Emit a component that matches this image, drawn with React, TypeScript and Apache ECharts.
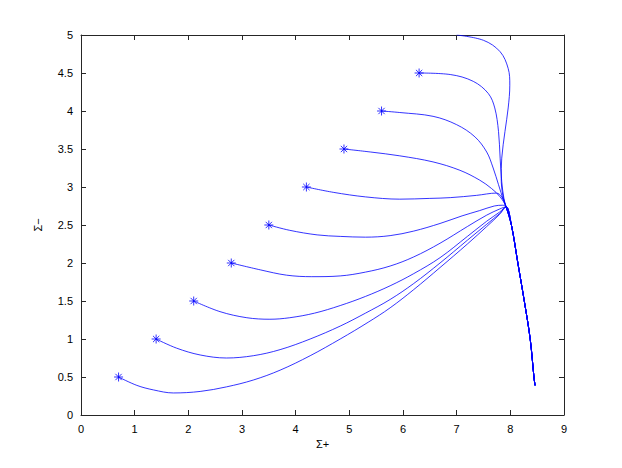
import React, { useEffect, useRef } from "react";
import * as echarts from "echarts";

const xTicks = [0, 1, 2, 3, 4, 5, 6, 7, 8, 9];
const yTicks = [0, 0.5, 1, 1.5, 2, 2.5, 3, 3.5, 4, 4.5, 5];

const startPoints: [number, number][] = [
  [0.7, 0.5], [1.4, 1.0], [2.1, 1.5], [2.8, 2.0], [3.5, 2.5],
  [4.2, 3.0], [4.9, 3.5], [5.6, 4.0], [6.3, 4.5],
];

const tail: [number, number][] = [
  [8.02, 2.5], [8.14, 2.0], [8.26, 1.5], [8.37, 1.0], [8.44, 0.5], [8.46, 0.39],
];

const curveTop: [number, number][] = [
  [7.0, 5.0], [7.5, 4.93], [7.81, 4.78], [7.96, 4.56], [7.99, 4.34], [7.96, 4.04],
  [7.9, 3.73], [7.84, 3.38], [7.83, 3.11], [7.86, 2.89], [7.92, 2.74],
];
const curve45: [number, number][] = [
  [6.3, 4.5], [6.88, 4.48], [7.31, 4.39], [7.59, 4.23], [7.71, 4.04], [7.78, 3.73],
  [7.81, 3.38], [7.84, 3.07], [7.88, 2.85], [7.92, 2.74],
];
const curve40: [number, number][] = [
  [5.6, 4.0], [5.94, 3.98], [6.56, 3.93], [7.0, 3.82], [7.34, 3.66], [7.56, 3.46],
  [7.68, 3.25], [7.78, 3.03], [7.87, 2.83], [7.92, 2.74],
];
const curve35: [number, number][] = [
  [4.9, 3.5], [5.4, 3.46], [5.94, 3.41], [6.56, 3.33], [7.06, 3.22], [7.43, 3.09],
  [7.65, 2.98], [7.81, 2.87], [7.92, 2.74],
];
const curve30: [number, number][] = [
  [4.2, 3.0], [4.7, 2.93], [5.3, 2.87], [5.94, 2.84], [6.5, 2.85], [6.88, 2.86],
  [7.37, 2.89], [7.74, 2.92], [7.84, 2.87], [7.92, 2.74],
];
const curve25: [number, number][] = [
  [3.5, 2.5], [3.89, 2.43], [4.4, 2.37], [4.83, 2.35], [5.3, 2.34], [5.76, 2.36],
  [6.2, 2.42], [6.69, 2.52], [7.1, 2.62], [7.43, 2.69], [7.7, 2.75], [7.85, 2.76],
  [7.92, 2.74],
];
const curve20: [number, number][] = [
  [2.8, 2.0], [3.34, 1.91], [3.83, 1.84], [4.3, 1.82], [4.83, 1.83], [5.3, 1.88],
  [5.76, 1.96], [6.2, 2.08], [6.69, 2.26], [7.2, 2.48], [7.56, 2.63], [7.8, 2.71],
  [7.92, 2.74],
];
const curve15: [number, number][] = [
  [2.1, 1.5], [2.59, 1.36], [3.09, 1.28], [3.52, 1.26], [3.89, 1.28], [4.35, 1.34],
  [4.83, 1.44], [5.3, 1.56], [5.76, 1.7], [6.2, 1.86], [6.69, 2.07], [7.2, 2.35],
  [7.56, 2.55], [7.8, 2.67], [7.92, 2.74],
];
const curve10: [number, number][] = [
  [1.4, 1.0], [1.78, 0.88], [2.22, 0.79], [2.71, 0.75], [3.21, 0.78], [3.71, 0.86],
  [4.27, 1.0], [4.83, 1.17], [5.3, 1.34], [5.76, 1.52], [6.2, 1.73], [6.69, 2.0],
  [7.2, 2.3], [7.56, 2.51], [7.8, 2.65], [7.92, 2.74],
];
const curve05: [number, number][] = [
  [0.7, 0.5], [1.04, 0.39], [1.35, 0.33], [1.72, 0.29], [2.22, 0.31], [2.71, 0.37],
  [3.21, 0.46], [3.71, 0.59], [4.27, 0.78], [4.83, 1.0], [5.35, 1.22], [5.76, 1.41],
  [6.2, 1.65], [6.69, 1.94], [7.2, 2.25], [7.56, 2.48], [7.8, 2.64], [7.92, 2.74],
];

const curves = [curveTop, curve45, curve40, curve35, curve30, curve25, curve20, curve15, curve10, curve05];

const BLUE = "#0000ff";
const AXIS = "#262626";
const FONT = "Liberation Sans, Arial, Helvetica, sans-serif";
const STAR = "path://M0,-5L0,5M-5,0L5,0M-3.5,-3.5L3.5,3.5M-3.5,3.5L3.5,-3.5";

export default function App() {
  const ref = useRef<HTMLDivElement>(null);
  useEffect(() => {
    if (!ref.current) return;
    const chart = echarts.init(ref.current, undefined, { renderer: "svg" });
    const axisCommon = {
      type: "value" as const,
      axisLine: { show: true, onZero: false, lineStyle: { color: AXIS, width: 1 } },
      axisTick: { show: true, inside: true, length: 5, lineStyle: { color: AXIS } },
      splitLine: { show: false },
    };
    const lineSeries = curves.map((c) => ({
      type: "line" as const,
      data: [...c, ...tail],
      smooth: 0.35,
      showSymbol: false,
      symbol: "none",
      lineStyle: { color: BLUE, width: 0.8 },
      silent: true,
      z: 2,
    }));
    chart.setOption({
      animation: false,
      backgroundColor: "#ffffff",
      grid: { left: 81, right: 58, top: 35, bottom: 53, containLabel: false },
      xAxis: [
        {
          ...axisCommon,
          position: "bottom",
          min: 0, max: 9, interval: 1,
          name: "Σ+",
          nameLocation: "middle",
          nameGap: 16,
          nameTextStyle: { color: "#000", fontSize: 11, fontFamily: FONT },
          axisLabel: { color: "#000", fontSize: 11, fontFamily: FONT, margin: 8 },
        },
        {
          ...axisCommon,
          position: "top",
          min: 0, max: 9, interval: 1,
          axisLabel: { show: false },
        },
      ],
      yAxis: [
        {
          ...axisCommon,
          position: "left",
          min: 0, max: 5, interval: 0.5,
          name: "Σ−",
          nameLocation: "middle",
          nameGap: 38,
          nameRotate: 90,
          nameTextStyle: { color: "#000", fontSize: 11, fontFamily: FONT },
          axisLabel: { color: "#000", fontSize: 11, fontFamily: FONT, margin: 8 },
        },
        {
          ...axisCommon,
          position: "right",
          min: 0, max: 5, interval: 0.5,
          axisLabel: { show: false },
        },
      ],
      series: [
        ...lineSeries,
        {
          type: "scatter",
          data: startPoints,
          symbol: STAR,
          symbolSize: 9,
          itemStyle: { color: "none", borderColor: BLUE, borderWidth: 1 },
          z: 3,
        },
      ],
    });
    return () => chart.dispose();
  }, []);
  return (
    <div
      ref={ref}
      style={{ position: "absolute", left: 0, top: 0, width: 622, height: 468 }}
    />
  );
}
